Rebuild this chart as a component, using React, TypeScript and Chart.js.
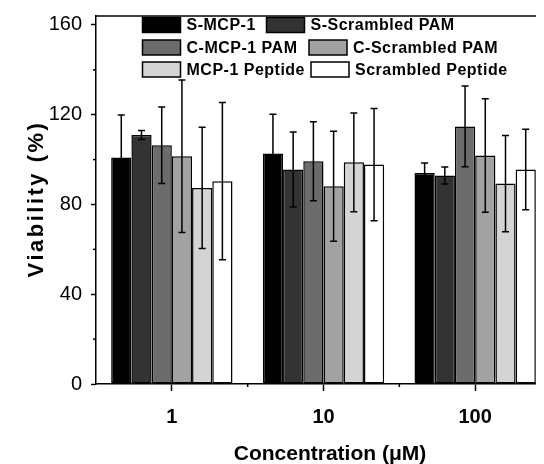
import React, { useEffect, useRef } from "react";
import { Chart, registerables } from "chart.js";

Chart.register(...registerables);

const categories = ["1", "10", "100"];
const seriesLabels = [
  "S-MCP-1",
  "S-Scrambled PAM",
  "C-MCP-1 PAM",
  "C-Scrambled PAM",
  "MCP-1 Peptide",
  "Scrambled Peptide",
];
const sMcp1 = [100.9, 102.7, 94.0];
const sMcp1Err = [19, 17.5, 4.5];
const sScrPam = [111.0, 95.6, 92.9];
const sScrPamErr = [2, 16.7, 3.8];
const cMcp1Pam = [106.4, 99.3, 114.8];
const cMcp1PamErr = [17, 17.6, 18];
const cScrPam = [101.5, 88.1, 101.8];
const cScrPamErr = [34, 24.5, 25.3];
const mcp1Pep = [87.4, 98.8, 89.3];
const mcp1PepErr = [27, 22, 21.4];
const scrPep = [90.4, 97.8, 95.6];
const scrPepErr = [35, 25, 17.9];
const yMajorTicks = [0, 40, 80, 120, 160];
const yMinorTicks = [20, 60, 100, 140];
const fills = ["#000000", "#333333", "#6c6c6c", "#a2a2a2", "#d4d4d4", "#ffffff"];

const FONT = "'Liberation Sans', Arial, sans-serif";

const errorBarPlugin = {
  id: "errorBars",
  afterDatasetsDraw(chart: any) {
    const ctx = chart.ctx;
    const yScale = chart.scales.y;
    ctx.save();
    ctx.strokeStyle = "#000";
    ctx.lineWidth = 1.5;
    chart.data.datasets.forEach((ds: any, i: number) => {
      const meta = chart.getDatasetMeta(i);
      meta.data.forEach((el: any, j: number) => {
        const v = ds.data[j];
        const e = ds.errors[j];
        const yt = yScale.getPixelForValue(v + e);
        const yb = yScale.getPixelForValue(v - e);
        const x = el.x;
        const cap = 3.5;
        ctx.beginPath();
        ctx.moveTo(x, yb);
        ctx.lineTo(x, yt);
        ctx.moveTo(x - cap, yt);
        ctx.lineTo(x + cap, yt);
        ctx.moveTo(x - cap, yb);
        ctx.lineTo(x + cap, yb);
        ctx.stroke();
      });
    });
    ctx.restore();
  },
};

const decorPlugin = {
  id: "decor",
  afterDraw(chart: any) {
    const ctx = chart.ctx;
    const area = chart.chartArea;
    const yScale = chart.scales.y;
    const xScale = chart.scales.x;
    ctx.save();
    ctx.strokeStyle = "#000";
    ctx.lineWidth = 1.5;
    // top frame
    ctx.beginPath();
    ctx.moveTo(area.left, area.top);
    ctx.lineTo(area.right + 10, area.top);
    ctx.stroke();
    // minor y ticks
    yMinorTicks.forEach((v) => {
      const y = yScale.getPixelForValue(v);
      ctx.beginPath();
      ctx.moveTo(area.left - 3, y);
      ctx.lineTo(area.left, y);
      ctx.stroke();
    });
    // minor x ticks at category boundaries
    for (let i = 0; i < categories.length - 1; i++) {
      const x = (xScale.getPixelForTick(i) + xScale.getPixelForTick(i + 1)) / 2;
      ctx.beginPath();
      ctx.moveTo(x, area.bottom);
      ctx.lineTo(x, area.bottom + 3);
      ctx.stroke();
    }
    // axis titles
    ctx.fillStyle = "#000";
    ctx.font = `bold 21px ${FONT}`;
    ctx.textAlign = "center";
    ctx.textBaseline = "alphabetic";
    ctx.fillText("Concentration (\u03bcM)", 322, 452);
    ctx.save();
    ctx.translate(35, 191);
    ctx.rotate(-Math.PI / 2);
    (ctx as any).letterSpacing = "2.5px";
    ctx.font = `bold 22px ${FONT}`;
    ctx.fillText("Viability (%)", 0, 0);
    ctx.restore();
    // legend
    const rowsY = [9.5, 32, 54];
    const col2X = [258.5, 301, 303];
    const col1X = 134.5;
    const boxW = 38;
    const boxH = 15;
    ctx.font = `bold 16px ${FONT}`;
    (ctx as any).letterSpacing = "0.5px";
    ctx.textAlign = "left";
    ctx.textBaseline = "middle";
    chart.data.datasets.forEach((ds: any, i: number) => {
      const row = Math.floor(i / 2);
      const bx = i % 2 === 0 ? col1X : col2X[row];
      const by = rowsY[row];
      ctx.fillStyle = ds.backgroundColor;
      ctx.fillRect(bx, by, boxW, boxH);
      ctx.strokeRect(bx, by, boxW, boxH);
      ctx.fillStyle = "#000";
      ctx.fillText(ds.label, bx + boxW + 6, by + boxH / 2 + 1);
    });
    ctx.restore();
  },
};

export default function App() {
  const ref = useRef<HTMLCanvasElement | null>(null);
  useEffect(() => {
    if (!ref.current) return;
    Chart.defaults.font.family = FONT;
    const values = [sMcp1, sScrPam, cMcp1Pam, cScrPam, mcp1Pep, scrPep];
    const errors = [sMcp1Err, sScrPamErr, cMcp1PamErr, cScrPamErr, mcp1PepErr, scrPepErr];
    const chart = new Chart(ref.current, {
      type: "bar",
      data: {
        labels: categories,
        datasets: seriesLabels.map((label, i) => ({
          label,
          data: values[i],
          errors: errors[i],
          backgroundColor: fills[i],
          borderColor: "#000",
          borderWidth: 1.5,
          borderSkipped: false,
          categoryPercentage: 0.8,
          barPercentage: 1.0,
        })) as any,
      },
      options: {
        responsive: false,
        animation: false,
        layout: { padding: { top: 8, right: 5, left: 0, bottom: 0 } },
        plugins: { legend: { display: false }, tooltip: { enabled: false } },
        scales: {
          x: {
            type: "category",
            offset: true,
            grid: {
              display: true,
              drawOnChartArea: false,
              offset: false,
              tickLength: 7,
              tickColor: "#000",
              tickWidth: 1.5,
            },
            border: { display: true, color: "#000", width: 1.5 },
            ticks: { color: "#000", font: { size: 20, weight: "bold" }, padding: 14, maxRotation: 0 },
            afterFit: (s: any) => {
              s.height = 80;
              s.paddingLeft = 0;
              s.paddingRight = 0;
            },
          },
          y: {
            min: 0,
            max: 164,
            grid: {
              display: true,
              drawOnChartArea: false,
              tickLength: 5,
              tickColor: "#000",
              tickWidth: 1.5,
            },
            border: { display: true, color: "#000", width: 1.5 },
            ticks: {
              stepSize: 40,
              includeBounds: false,
              color: "#000",
              font: { size: 20 },
              padding: 9,
              callback: (v: any) => (yMajorTicks.includes(Number(v)) ? String(v) : ""),
            },
            afterFit: (s: any) => {
              s.width = 88;
              s.paddingTop = 0;
              s.paddingBottom = 0;
            },
          },
        },
      } as any,
      plugins: [errorBarPlugin, decorPlugin],
    });
    return () => chart.destroy();
  }, []);
  return (
    <div style={{ width: 536, height: 456, overflow: "hidden" }}>
      <canvas ref={ref} width={548} height={456} style={{ display: "block" }} />
    </div>
  );
}
